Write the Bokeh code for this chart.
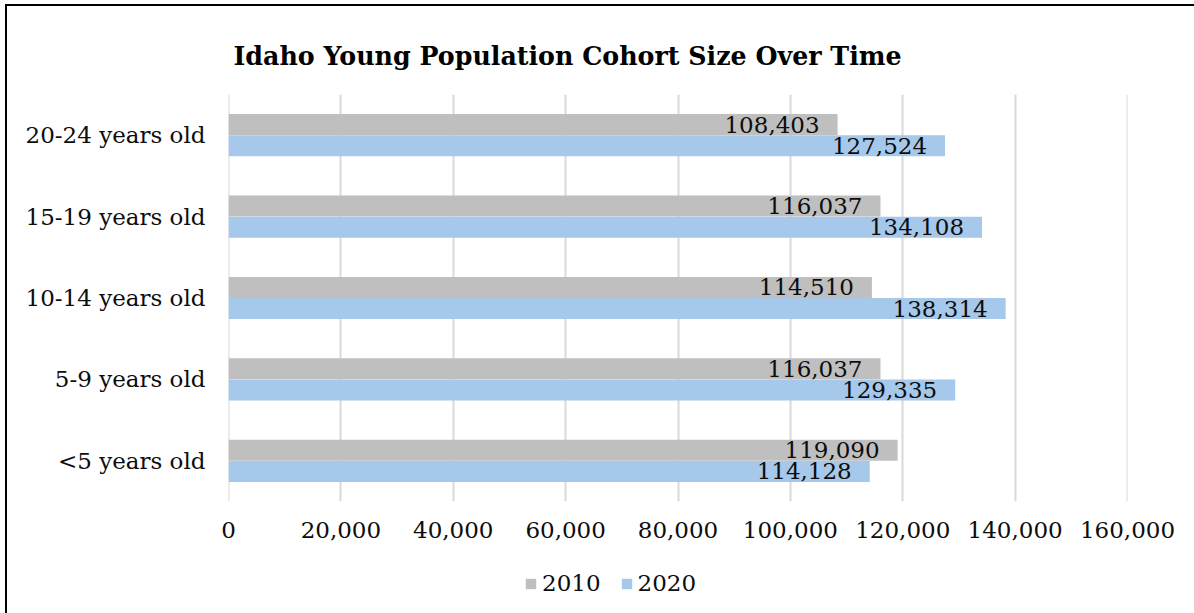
from bokeh.plotting import figure
from bokeh.layouts import column, row
from bokeh.models import (ColumnDataSource, FactorRange, Range1d, FixedTicker,
                          NumeralTickFormatter, Legend, LegendItem, Span, Div, Spacer, Label)
from bokeh.transform import dodge
from bokeh.core.properties import value
from bokeh.embed import file_html
from bokeh.resources import INLINE

# Age cohorts, bottom to top
ages = ["<5 years old", "5-9 years old", "10-14 years old", "15-19 years old", "20-24 years old"]
pop_2010 = [119090, 116037, 114510, 116037, 108403]
pop_2020 = [114128, 129335, 138314, 134108, 127524]
x_ticks = [0, 20000, 40000, 60000, 80000, 100000, 120000, 140000, 160000]
series = ["2010", "2020"]
title_text = "Idaho Young Population Cohort Size Over Time"

FONT = "DejaVu Serif"
GRAY = "#bfbfbf"
BLUE = "#a6c8eb"
INK = "#0d0d0d"

src = ColumnDataSource(dict(
    age=ages,
    v2010=pop_2010,
    v2020=pop_2020,
    l2010=[f"{v:,}" for v in pop_2010],
    l2020=[f"{v:,}" for v in pop_2020],
))

W = 1187


def strip(height):
    """Blank full-width figure used for the title and the legend rows."""
    f = figure(width=W, height=height, x_range=Range1d(0, 1), y_range=Range1d(0, 1),
               output_backend="svg", toolbar_location=None, title=None,
               x_axis_location=None, y_axis_location=None, min_border=0)
    f.outline_line_color = None
    f.grid.grid_line_color = None
    f.border_fill_color = "white"
    return f


# Title row
head = strip(70)
head.add_layout(Label(x=5, y=21, x_units="screen", y_units="screen", text=title_text,
                      text_font=FONT, text_font_style="bold", text_font_size="25.3px",
                      text_color="#000000", text_align="left", text_baseline="alphabetic"))

# Main chart
p = figure(width=W, height=479, y_range=FactorRange(*ages, range_padding=0),
           x_range=Range1d(0, 160000), output_backend="svg", toolbar_location=None,
           title=None, min_border_left=221, min_border_right=67, min_border_top=18,
           min_border_bottom=54)
p.background_fill_color = "white"
p.border_fill_color = "white"
p.outline_line_color = None

bar_h = 0.258
p.hbar(y=dodge("age", 0.13, range=p.y_range), right="v2010", height=bar_h,
       source=src, fill_color=GRAY, line_color=None)
p.hbar(y=dodge("age", -0.13, range=p.y_range), right="v2020", height=bar_h,
       source=src, fill_color=BLUE, line_color=None)

for col, lab, off in (("v2010", "l2010", 0.13), ("v2020", "l2020", -0.13)):
    p.text(x=col, y=dodge("age", off, range=p.y_range), text=lab, source=src,
           text_align="right", text_baseline="middle", x_offset=-18,
           text_font=value(FONT), text_font_size="23px", text_color=INK)

p.xaxis.ticker = FixedTicker(ticks=x_ticks)
p.xaxis.formatter = NumeralTickFormatter(format="0,0")
for ax in (p.xaxis, p.yaxis):
    ax.axis_line_color = None
    ax.major_tick_line_color = None
    ax.minor_tick_line_color = None
    ax.major_label_text_font = FONT
    ax.major_label_text_font_size = "23px"
    ax.major_label_text_color = INK
p.xaxis.major_label_standoff = 14
p.yaxis.major_label_standoff = 17

p.xgrid.grid_line_color = "#d9d9d9"
p.xgrid.grid_line_width = 2
p.ygrid.grid_line_color = None
# gridlines at both ends of the value range
for edge in (x_ticks[0], x_ticks[-1]):
    p.add_layout(Span(location=edge, dimension="height", line_color="#d9d9d9",
                      line_width=2, level="underlay"))

# Legend row
leg = strip(58)
# swatch renderers sit outside the visible range; only their legend entries show
swatches = [leg.hbar(y=[-5], left=[-3], right=[-2], height=1, fill_color=c, line_color=None)
            for c in (GRAY, BLUE)]
legend = Legend(items=[LegendItem(label=s, renderers=[r]) for s, r in zip(series, swatches)],
                orientation="horizontal", location=(296, 17),
                label_text_font=FONT, label_text_font_size="23px", label_text_color=INK,
                glyph_width=13, glyph_height=13, label_standoff=5, spacing=19,
                border_line_color=None, background_fill_alpha=0, padding=0, margin=0)
leg.add_layout(legend, "center")

# Left and top edges of the chart box
edge_left = Div(width=2, height=609, margin=(0, 0, 0, 0), styles={"background-color": "#000"})
edge_top = Div(width=W, height=2, margin=(0, 0, 0, 0), styles={"background-color": "#000"})

page = row(Spacer(width=5, height=613),
           column(Spacer(width=2, height=4), edge_left, spacing=0),
           column(Spacer(width=W, height=4), edge_top, head, p, leg, spacing=0),
           spacing=0)

open("out.html", "w").write(file_html(page, INLINE))
